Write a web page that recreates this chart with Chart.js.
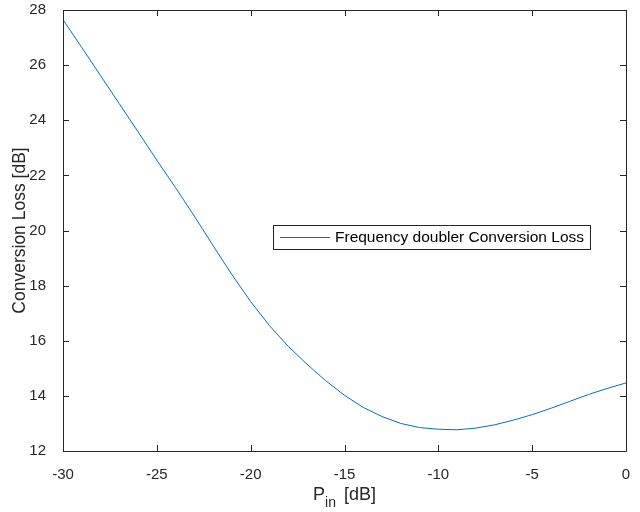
<!DOCTYPE html>
<html>
<head>
<meta charset="utf-8">
<script src="https://cdn.jsdelivr.net/npm/chart.js@4.4.0/dist/chart.umd.min.js"></script>
<style>
  html, body { margin: 0; padding: 0; background: #fff; }
  #wrap { width: 640px; height: 512px; }
</style>
</head>
<body>
<div id="wrap"><canvas id="chart" width="640" height="512"></canvas></div>
<script>
// données
var pinValues = [-30, -29, -28, -27, -26, -25, -24, -23, -22, -21, -20, -19, -18, -17, -16,
                 -15, -14, -13, -12, -11, -10, -9, -8, -7, -6, -5, -4, -3, -2, -1, 0];
var lossValues = [27.65, 26.64, 25.62, 24.60, 23.58, 22.55, 21.55, 20.52, 19.45, 18.40, 17.42,
                  16.55, 15.80, 15.15, 14.55, 14.02, 13.58, 13.25, 13.00, 12.85, 12.79, 12.77,
                  12.83, 12.95, 13.12, 13.32, 13.55, 13.80, 14.05, 14.27, 14.47];
var xTicks = [-30, -25, -20, -15, -10, -5, 0];
var yTicks = [12, 14, 16, 18, 20, 22, 24, 26, 28];
var seriesLabel = 'Frequency doubler Conversion Loss';
var xTitle = ['P', 'in', ' [dB]'];
var yTitle = 'Conversion Loss [dB]';

var axisColor = '#262626';
var fontName = '"Liberation Sans", Arial, sans-serif';

var points = pinValues.map(function(p, i) { return { x: p, y: lossValues[i] }; });

// boîte, graduations intérieures, titres et légende façon MATLAB
var matlabPlugin = {
    id: 'matlabBox',
    afterDraw: function(chart) {
        var ctx = chart.ctx;
        var a = chart.chartArea;
        var xs = chart.scales.x;
        var ys = chart.scales.y;
        var tl = 6;
        ctx.save();
        ctx.strokeStyle = axisColor;
        ctx.lineWidth = 1;
        ctx.beginPath();
        ctx.rect(a.left + 0.5, a.top + 0.5, a.right - a.left, a.bottom - a.top);
        xTicks.forEach(function(v) {
            var px = Math.round(xs.getPixelForValue(v)) + 0.5;
            ctx.moveTo(px, a.bottom); ctx.lineTo(px, a.bottom - tl);
            ctx.moveTo(px, a.top); ctx.lineTo(px, a.top + tl);
        });
        yTicks.forEach(function(v) {
            var py = Math.round(ys.getPixelForValue(v)) + 0.5;
            ctx.moveTo(a.left, py); ctx.lineTo(a.left + tl, py);
            ctx.moveTo(a.right, py); ctx.lineTo(a.right - tl, py);
        });
        ctx.stroke();

        // titre de l'axe x avec indice
        ctx.fillStyle = axisColor;
        ctx.textBaseline = 'alphabetic';
        ctx.textAlign = 'left';
        ctx.font = '18px ' + fontName;
        var w1 = ctx.measureText(xTitle[0]).width;
        var w3 = ctx.measureText(xTitle[2]).width;
        ctx.font = '14px ' + fontName;
        var w2 = ctx.measureText(xTitle[1]).width;
        var cx = (a.left + a.right) / 2;
        var x0 = cx - (w1 + w2 + w3 + 3) / 2;
        var base = 500;
        ctx.font = '18px ' + fontName;
        ctx.fillText(xTitle[0], x0, base);
        ctx.font = '14px ' + fontName;
        ctx.fillText(xTitle[1], x0 + w1, base + 7);
        ctx.font = '18px ' + fontName;
        ctx.fillText(xTitle[2], x0 + w1 + w2 + 3, base);

        // titre de l'axe y
        ctx.save();
        ctx.font = '17.5px ' + fontName;
        ctx.translate(25, (a.top + a.bottom) / 2);
        ctx.rotate(-Math.PI / 2);
        ctx.textAlign = 'center';
        ctx.fillText(yTitle, 0, 0);
        ctx.restore();

        // légende
        ctx.font = '15.5px ' + fontName;
        var lx = 273, ly = 225, lh = 24;
        var lw = 317;
        ctx.fillStyle = '#ffffff';
        ctx.fillRect(lx, ly, lw, lh);
        ctx.strokeStyle = axisColor;
        ctx.strokeRect(lx + 0.5, ly + 0.5, lw, lh);
        ctx.strokeStyle = '#0072BD';
        ctx.beginPath();
        ctx.moveTo(lx + 7, ly + 12.5);
        ctx.lineTo(lx + 57, ly + 12.5);
        ctx.stroke();
        ctx.fillStyle = '#000000';
        ctx.textBaseline = 'middle';
        ctx.fillText(seriesLabel, lx + 62, ly + 13);
        ctx.restore();
    }
};

var config = {
    type: 'line',
    data: {
        datasets: [{
            label: seriesLabel,
            data: points,
            borderColor: '#0072BD',
            borderWidth: 1,
            pointRadius: 0,
            fill: false,
            tension: 0
        }]
    },
    options: {
        responsive: false,
        animation: false,
        layout: { padding: { top: 10, right: 14, left: 0, bottom: 0 } },
        plugins: {
            legend: { display: false },
            tooltip: { enabled: false }
        },
        scales: {
            x: {
                type: 'linear',
                min: -30,
                max: 0,
                afterBuildTicks: function(scale) {
                    scale.ticks = xTicks.map(function(v) { return { value: v }; });
                },
                afterFit: function(scale) {
                    scale.height = 61;
                    scale.paddingLeft = 0;
                    scale.paddingRight = 0;
                },
                grid: { display: false },
                border: { display: false },
                ticks: {
                    color: axisColor,
                    padding: 7,
                    maxRotation: 0,
                    font: { family: fontName, size: 15 }
                }
            },
            y: {
                type: 'linear',
                min: 12,
                max: 28,
                afterBuildTicks: function(scale) {
                    scale.ticks = yTicks.map(function(v) { return { value: v }; });
                },
                afterFit: function(scale) {
                    scale.width = 63;
                    scale.paddingTop = 0;
                    scale.paddingBottom = 0;
                },
                grid: { display: false },
                border: { display: false },
                ticks: {
                    color: axisColor,
                    padding: 9,
                    font: { family: fontName, size: 15 }
                }
            }
        }
    },
    plugins: [matlabPlugin]
};

var chartCtx = document.getElementById('chart');
window.myLine = new Chart(chartCtx, config);
</script>
</body>
</html>
